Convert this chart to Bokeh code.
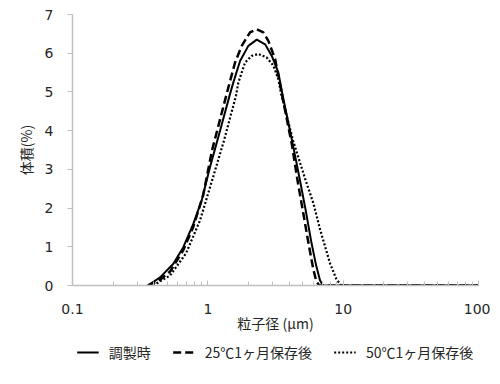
from bokeh.plotting import figure
from bokeh.models import Legend, LegendItem, FixedTicker, Range1d
from bokeh.layouts import column
from bokeh.embed import file_html
from bokeh.resources import INLINE

# 調製時 (solid)
x_prep = [0.361, 0.444, 0.556, 0.659, 0.781, 0.901, 1.038, 1.231, 1.459, 1.542, 1.730,
          1.992, 2.30, 2.65, 2.97, 3.32, 3.60, 4.26, 4.80, 5.32, 5.79, 6.31, 6.75, 7.10,
          10, 20, 50, 100]
y_prep = [0.0, 0.21, 0.56, 0.99, 1.59, 2.20, 3.06, 4.00, 4.95, 5.24, 5.80,
          6.19, 6.35, 6.23, 5.93, 5.50, 4.85, 3.62, 2.71, 1.89, 1.16, 0.52, 0.13, 0.0,
          0.0, 0.0, 0.0, 0.0]

# 25℃1ヶ月保存後 (dashed)
x_25 = [0.361, 0.444, 0.526, 0.656, 0.778, 0.922, 1.074, 1.380, 1.589, 1.78, 2.05,
        2.30, 2.57, 2.80, 3.14, 3.60, 4.19, 4.60, 5.06, 5.50, 6.00, 6.31, 6.64,
        10, 20, 50, 100]
y_25 = [0.0, 0.15, 0.36, 0.90, 1.50, 2.32, 3.49, 4.96, 5.76, 6.19, 6.54,
        6.62, 6.54, 6.32, 5.85, 4.78, 3.62, 2.71, 1.89, 1.16, 0.44, 0.13, 0.0,
        0.0, 0.0, 0.0, 0.0]

# 50℃1ヶ月保存後 (dotted)
x_50 = [0.394, 0.526, 0.690, 0.875, 1.074, 1.318, 1.616, 1.680, 1.884, 2.11, 2.36,
        2.72, 3.05, 3.32, 3.48, 4.26, 5.23, 6.03, 6.75, 8.00, 8.87, 9.65, 20, 50, 100]
y_50 = [0.0, 0.26, 0.83, 1.68, 2.71, 3.75, 4.91, 5.24, 5.76, 5.93, 5.98,
        5.89, 5.68, 5.33, 4.95, 3.75, 2.76, 2.12, 1.45, 0.57, 0.18, 0.0, 0.0, 0.0, 0.0]

labels = ["調製時", "25℃1ヶ月保存後", "50℃1ヶ月保存後"]
x_ticks = [0.1, 1, 10, 100]
y_ticks = [0, 1, 2, 3, 4, 5, 6, 7]

JP = "Noto Sans CJK JP"
NUM = "DejaVu Sans"
TXT = "#262626"
AX = "#bfbfbf"

series = [(x_prep, y_prep, dict(line_width=2)),
          (x_25, y_25, dict(line_width=2.5, line_dash="8 4")),
          (x_50, y_50, dict(line_width=2.2, line_dash="2 2"))]

p = figure(width=490, height=338, x_axis_type="log",
           x_range=Range1d(0.1, 100), y_range=Range1d(0, 7),
           output_backend="svg", toolbar_location=None,
           min_border_left=72, min_border_right=12, min_border_top=14, min_border_bottom=53)
p.outline_line_color = None
p.xgrid.visible = False
p.ygrid.visible = False

for xs, ys, st in series:
    p.line(xs, ys, line_color="black", **st)

xa = p.xaxis[0]
xa.ticker = FixedTicker(ticks=x_ticks, minor_ticks=[m * d for d in [0.1, 1, 10] for m in range(2, 10)])
xa.axis_label = "粒子径 (µm)"
xa.axis_label_text_font = JP
xa.axis_label_text_font_size = "14px"
xa.axis_label_text_font_style = "normal"
xa.axis_label_text_color = TXT
xa.axis_label_standoff = -4
xa.major_label_text_font = NUM
xa.major_label_text_font_size = "14px"
xa.major_label_text_color = TXT
xa.major_label_overrides = {0.1: "0.1", 1: "1", 10: "10", 100: "100"}
xa.major_label_standoff = 18
xa.axis_line_color = AX
xa.axis_line_width = 1.5
xa.major_tick_line_color = AX
xa.minor_tick_line_color = AX
xa.major_tick_in = 5
xa.major_tick_out = 0
xa.minor_tick_in = 4
xa.minor_tick_out = 0

ya = p.yaxis[0]
ya.ticker = FixedTicker(ticks=y_ticks)
ya.axis_label = "体積(%)"
ya.axis_label_text_font = JP
ya.axis_label_text_font_size = "14px"
ya.axis_label_text_font_style = "normal"
ya.axis_label_text_color = TXT
ya.axis_label_standoff = 6
ya.major_label_text_font = NUM
ya.major_label_text_font_size = "14px"
ya.major_label_text_color = TXT
ya.major_label_standoff = 14
ya.axis_line_color = AX
ya.axis_line_width = 1.5
ya.major_tick_line_color = AX
ya.major_tick_in = 0
ya.major_tick_out = 5
ya.minor_tick_line_color = None

# legend strip (its lines lie outside its view; only the legend is seen)
q = figure(width=490, height=28, x_range=Range1d(1000, 1001), y_range=Range1d(0, 1),
           output_backend="svg", toolbar_location=None,
           x_axis_location=None, y_axis_location=None,
           min_border_left=40, min_border_right=10, min_border_top=0, min_border_bottom=0)
q.outline_line_color = None
q.xgrid.visible = False
q.ygrid.visible = False
rs = [q.line(xs, ys, line_color="black", **st) for xs, ys, st in series]

legend = Legend(items=[LegendItem(label=lab, renderers=[r]) for lab, r in zip(labels, rs)],
                orientation="horizontal", location="center",
                label_text_font=JP, label_text_font_size="14px", label_text_color=TXT,
                glyph_width=22, glyph_height=14, spacing=22, label_standoff=10,
                border_line_color=None, background_fill_alpha=0,
                padding=4, margin=0)
q.add_layout(legend, "center")

open("out.html", "w").write(file_html(column(p, q, spacing=0), INLINE))
